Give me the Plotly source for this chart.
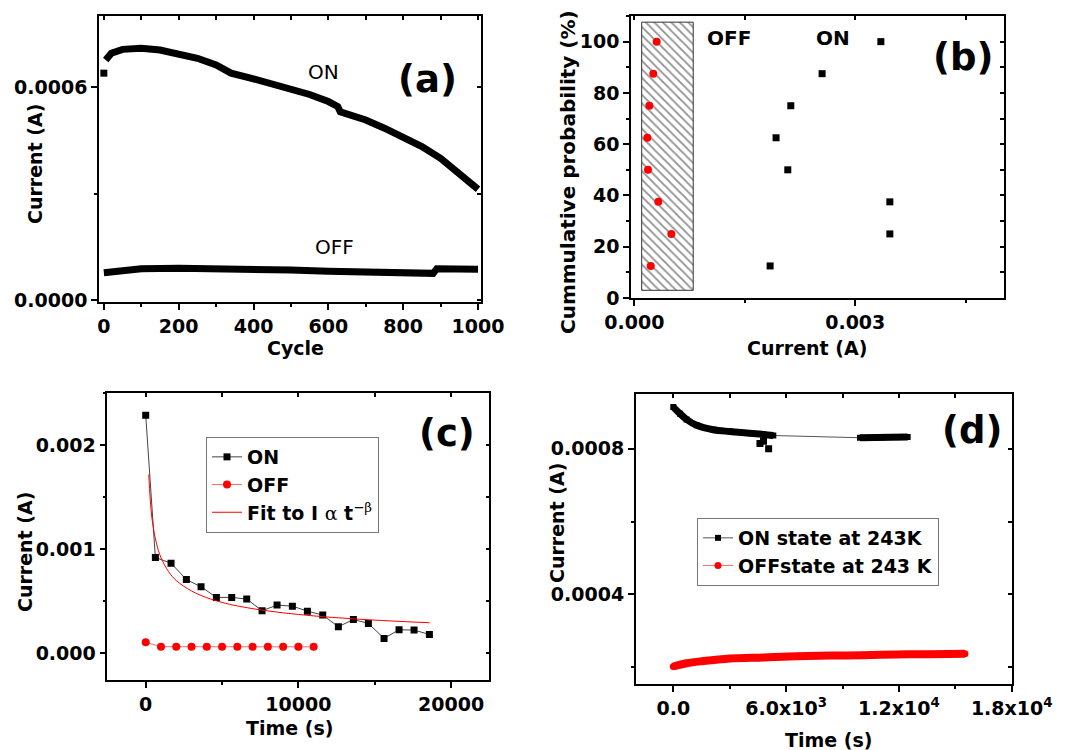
import plotly.graph_objects as go

# ---------------- data ----------------
# (a) endurance
a_cycle_first = [0]
a_on_first = [0.000639]
a_cycle_on = [5, 20, 50, 100, 150, 200, 250, 300, 320, 340, 400, 450, 500, 550, 600, 625, 632,
              700, 750, 800, 850, 900, 950, 1000]
a_on = [0.000676, 0.000695, 0.000706, 0.000709, 0.000704, 0.000695, 0.000681, 0.000662, 0.00065,
        0.000639, 0.000623, 0.000608, 0.000596, 0.000579, 0.000559, 0.000545, 0.00053,
        0.000507, 0.000484, 0.000458, 0.000432, 0.000399, 0.000357, 0.000312]
a_cycle_off = [0, 50, 100, 200, 300, 400, 500, 600, 700, 800, 880, 890, 1000]
a_off = [0.000077, 0.0000845, 0.0000883, 0.0000892, 0.0000892, 0.0000873, 0.0000845, 0.0000808,
         0.0000779, 0.0000761, 0.0000751, 0.0000883, 0.0000864]

# (b) cumulative probability
b_prob = [12.5, 25, 37.5, 50, 62.5, 75, 87.5, 100]
b_off = [0.000223, 0.000503, 0.000326, 0.000186, 0.000177, 0.000204, 0.000258, 0.000304]
b_on = [0.001844, 0.00347, 0.00347, 0.002084, 0.001925, 0.002125, 0.00255, 0.003348]
b_hatch_x = [0.0001, 0.0008]
b_hatch_y = [3, 107.6]

# (c) retention
c_t_on = [0, 633, 1659, 2663, 3624, 4628, 5632, 6614, 7618, 8601, 9605, 10588, 11592, 12618,
          13600, 14582, 15608, 16591, 17573, 18577]
c_on = [0.00229, 0.000922, 0.000867, 0.00071, 0.00064, 0.000538, 0.000538, 0.000522, 0.00041,
        0.000464, 0.000454, 0.000406, 0.000368, 0.000256, 0.000326, 0.000288, 0.000144,
        0.000227, 0.000224, 0.000182]
c_t_off = [0, 1000, 2000, 3000, 4000, 5000, 6000, 7000, 8000, 9000, 10000, 11000]
c_off = [0.000106, 0.000064, 0.000064, 0.000063, 0.000063, 0.000063, 0.000063, 0.000063,
         0.000063, 0.000063, 0.000063, 0.000063]
c_t_fit = [200, 400, 700, 1000, 1500, 2000, 3000, 4000, 5000, 6000, 8000, 10000, 12000, 14000,
           16000, 18600]
c_fit = [0.00172, 0.00131, 0.00106, 0.00092, 0.000785, 0.0007, 0.0006, 0.000535, 0.00049,
         0.000456, 0.000408, 0.000374, 0.000348, 0.000328, 0.000312, 0.000294]

# (d) retention at 243 K
d_t_on1 = [0, 355, 709, 1241, 2128, 3014, 3900, 4787, 5319]
d_on1 = [0.000914, 0.000896, 0.00088, 0.000864, 0.000852, 0.000847, 0.000843, 0.000839, 0.000836]
d_t_on2 = [9929, 11200, 12465]
d_on2 = [0.00083, 0.000831, 0.000832]
d_t_on_out = [4610, 4800, 5071]
d_on_out = [0.000814, 0.00082, 0.0008]
d_t_off = [0, 709, 1596, 3014, 4787, 6560, 8333, 10106, 11879, 13652, 15514]
d_off = [0.000202, 0.000211, 0.000217, 0.000224, 0.000227, 0.00023, 0.000232, 0.000233,
         0.000235, 0.000236, 0.000237]
d_xticks = [0, 6000, 12000, 18000]
d_xticktext = ["0.0", "6.0x10<sup>3</sup>", "1.2x10<sup>4</sup>", "1.8x10<sup>4</sup>"]

# ---------------- styling ----------------
W, H = 1067, 750
OFF = 8  # page body margin offset of the figure
FAM = "DejaVu Sans"
BOLD = dict(family=FAM, size=19, color="black", weight="bold")
RED = "#ff0000"


def fx(px):
    return (px - OFF) / W


def fy(py):
    return 1 - (py - OFF) / H


fig = go.Figure()

# (a)
fig.add_trace(go.Scatter(x=a_cycle_on, y=a_on, mode="lines", line=dict(color="black", width=7),
                         xaxis="x", yaxis="y", showlegend=False))
fig.add_trace(go.Scatter(x=a_cycle_first, y=a_on_first, mode="markers",
                         marker=dict(symbol="square", size=7, color="black"),
                         xaxis="x", yaxis="y", showlegend=False))
fig.add_trace(go.Scatter(x=a_cycle_off, y=a_off, mode="lines", line=dict(color="black", width=7),
                         xaxis="x", yaxis="y", showlegend=False))

# (b)
fig.add_trace(go.Bar(x=[(b_hatch_x[0] + b_hatch_x[1]) / 2], y=[b_hatch_y[1] - b_hatch_y[0]],
                     base=[b_hatch_y[0]], width=[b_hatch_x[1] - b_hatch_x[0]],
                     marker=dict(color="white", line=dict(color="#333", width=1),
                                 pattern=dict(shape="\\", fgcolor="#222", bgcolor="white",
                                              size=6, solidity=0.3)),
                     xaxis="x2", yaxis="y2", showlegend=False, hoverinfo="skip"))
fig.add_trace(go.Scatter(x=b_off, y=b_prob, mode="markers",
                         marker=dict(symbol="circle", size=8, color=RED),
                         xaxis="x2", yaxis="y2", showlegend=False))
fig.add_trace(go.Scatter(x=b_on, y=b_prob, mode="markers",
                         marker=dict(symbol="square", size=7, color="black"),
                         xaxis="x2", yaxis="y2", showlegend=False))

# (c)
fig.add_trace(go.Scatter(x=c_t_on, y=c_on, mode="lines+markers", name="ON",
                         line=dict(color="#444", width=1),
                         marker=dict(symbol="square", size=7, color="black"),
                         xaxis="x3", yaxis="y3", legend="legend"))
fig.add_trace(go.Scatter(x=c_t_off, y=c_off, mode="lines+markers", name="OFF",
                         line=dict(color="#f07070", width=1),
                         marker=dict(symbol="circle", size=8, color=RED),
                         xaxis="x3", yaxis="y3", legend="legend"))
fig.add_trace(go.Scatter(x=c_t_fit, y=c_fit, mode="lines", line_shape="spline",
                         name="Fit to I <span style=\"font-family:'DejaVu Serif';font-weight:normal\">α</span> "
                              "t<sup><span style=\"font-family:'DejaVu Serif';font-weight:normal\">−β</span></sup>",
                         line=dict(color=RED, width=1),
                         xaxis="x3", yaxis="y3", legend="legend"))

# (d)
fig.add_trace(go.Scatter(x=d_t_on1 + d_t_on2, y=d_on1 + d_on2, mode="lines+markers",
                         name="ON state at 243K",
                         line=dict(color="#555", width=1),
                         marker=dict(symbol="square", size=6, color="black"),
                         xaxis="x4", yaxis="y4", legend="legend2"))
fig.add_trace(go.Scatter(x=d_t_off, y=d_off, mode="lines+markers", name="OFFstate at 243 K",
                         line=dict(color="#f07070", width=1),
                         marker=dict(symbol="circle", size=7, color=RED),
                         xaxis="x4", yaxis="y4", legend="legend2"))
fig.add_trace(go.Scatter(x=d_t_on1, y=d_on1, mode="lines", line_shape="spline",
                         line=dict(color="black", width=7),
                         xaxis="x4", yaxis="y4", showlegend=False))
fig.add_trace(go.Scatter(x=d_t_on2, y=d_on2, mode="lines",
                         line=dict(color="black", width=7),
                         xaxis="x4", yaxis="y4", showlegend=False))
fig.add_trace(go.Scatter(x=d_t_on_out, y=d_on_out, mode="markers",
                         marker=dict(symbol="square", size=7, color="black"),
                         xaxis="x4", yaxis="y4", showlegend=False))
fig.add_trace(go.Scatter(x=d_t_off, y=d_off, mode="lines", line_shape="spline",
                         line=dict(color=RED, width=8),
                         xaxis="x4", yaxis="y4", showlegend=False))

# ---------------- axes ----------------
# plot-area boxes in page pixels: (left, right, top, bottom)
panels = {
    1: dict(box=(99, 481, 16, 302), xr=[-13, 1008], yr=[-0.0000056, 0.0008],
            x=dict(dtick=200, tick0=0), xm=100, y=dict(dtick=0.0006, tick0=0, tickformat=".4f"), ym=0.0003,
            sx=a_cycle_off, sy=a_off),
    2: dict(box=(631, 1004, 16, 298), xr=[-0.000045, 0.00502], yr=[0, 110],
            x=dict(dtick=0.003, tick0=0, tickformat=".3f"), xm=0.0015, y=dict(dtick=20, tick0=0), ym=10,
            sx=b_on, sy=b_prob),
    3: dict(box=(107.3, 489.3, 393.3, 680), xr=[-2515, 22500], yr=[-0.000256, 0.0025],
            x=dict(dtick=10000, tick0=0, tickformat="d"), xm=5000, y=dict(dtick=0.001, tick0=0, tickformat=".3f"), ym=0.0005,
            sx=c_t_on, sy=c_on),
    4: dict(box=(635.7, 1011.7, 394, 684), xr=[-2000, 18000], yr=[0.000154, 0.00095],
            x=dict(tickmode="array", tickvals=d_xticks, ticktext=d_xticktext), xm=3000,
            y=dict(tickmode="array", tickvals=[0.0004, 0.0008], ticktext=["0.0004", "0.0008"]), ym=0.0002,
            sx=d_t_off, sy=d_off),
}

layout = {}
common = dict(showgrid=False, zeroline=False, linecolor="black", linewidth=1.5,
              tickcolor="black", tickwidth=1.5, automargin=False)
for n, p in panels.items():
    L, R, T, B = p["box"]
    xd = [fx(L), fx(R)]
    yd = [fy(B), fy(T)]
    xs = "" if n == 1 else str(n)
    xa = dict(domain=xd, range=p["xr"], anchor="y" + xs, showline=True, mirror=True,
              ticks="outside", ticklen=6, tickfont=BOLD,
              minor=dict(ticks="outside", ticklen=3, tickwidth=1.5, tickcolor="black", dtick=p["xm"], tick0=0),
              **common, **p["x"])
    ya = dict(domain=yd, range=p["yr"], anchor="x" + xs, showline=True, mirror=True,
              ticks="outside", ticklen=6, tickfont=BOLD,
              minor=dict(ticks="outside", ticklen=3, tickwidth=1.5, tickcolor="black", dtick=p["ym"], tick0=0),
              **common, **p["y"])
    layout["xaxis" + xs] = xa
    layout["yaxis" + xs] = ya
    m = str(n + 4)
    xkw = {k: v for k, v in p["x"].items() if k != "ticktext"}
    ykw = {k: v for k, v in p["y"].items() if k != "ticktext"}
    layout["xaxis" + m] = dict(overlaying="x" + xs, anchor="y" + xs, side="top", range=p["xr"],
                               showline=True, showticklabels=False, ticks="inside", ticklen=4,
                               minor=dict(ticks="inside", ticklen=4, tickwidth=1.5, tickcolor="black", dtick=p["xm"], tick0=0),
                               **common, **xkw)
    layout["yaxis" + m] = dict(overlaying="y" + xs, anchor="x" + xs, side="right", range=p["yr"],
                               showline=True, showticklabels=False, ticks="inside", ticklen=4,
                               minor=dict(ticks="inside", ticklen=4, tickwidth=1.5, tickcolor="black", dtick=p["ym"], tick0=0),
                               **common, **ykw)
    # transparent copies of a panel series so the mirror (top/right) tick axes are drawn
    fig.add_trace(go.Scatter(x=p["sx"], y=p["sy"], mode="markers", marker=dict(opacity=0),
                             xaxis="x" + m, yaxis="y" + xs, showlegend=False, hoverinfo="skip"))
    fig.add_trace(go.Scatter(x=p["sx"], y=p["sy"], mode="markers", marker=dict(opacity=0),
                             xaxis="x" + xs, yaxis="y" + m, showlegend=False, hoverinfo="skip"))


def ann(text, px, py, size=19, bold=True, angle=0):
    return dict(text=text, x=fx(px), y=fy(py), xref="paper", yref="paper",
                showarrow=False, textangle=angle, xanchor="center", yanchor="middle",
                font=dict(family=FAM, size=size, color="black", weight="bold" if bold else "normal"))


annotations = [
    ann("ON", 323, 72, 20, False), ann("OFF", 334, 247, 20, False), ann("(a)", 427, 80, 37),
    ann("Current (A)", 35, 164, 19, angle=-90), ann("Cycle", 295, 348),
    ann("OFF", 729, 38, 20), ann("ON", 833, 38, 20), ann("(b)", 963, 57, 37),
    ann("Cummulative probability (%)", 568, 172, 20, angle=-90), ann("Current (A)", 807, 348),
    ann("(c)", 447, 433, 37), ann("Current (A)", 25, 552, 19, angle=-90), ann("Time (s)", 289, 728),
    ann("(d)", 972, 430, 37), ann("Current (A)", 557, 523, 19, angle=-90), ann("Time (s)", 828, 740),
]

fig.update_layout(
    width=W, height=H, margin=dict(l=0, r=0, t=0, b=0, autoexpand=False),
    paper_bgcolor="white", plot_bgcolor="white",
    annotations=annotations,
    legend=dict(x=fx(206), y=fy(437), xanchor="left", yanchor="top",
                bgcolor="white", bordercolor="#777", borderwidth=1,
                font=dict(family=FAM, size=19, color="black", weight="bold")),
    legend2=dict(x=fx(697), y=fy(518), xanchor="left", yanchor="top",
                 bgcolor="white", bordercolor="#777", borderwidth=1, tracegroupgap=0,
                 font=dict(family=FAM, size=19, color="black", weight="bold")),
    **layout,
)

fig.write_html("out.html")
